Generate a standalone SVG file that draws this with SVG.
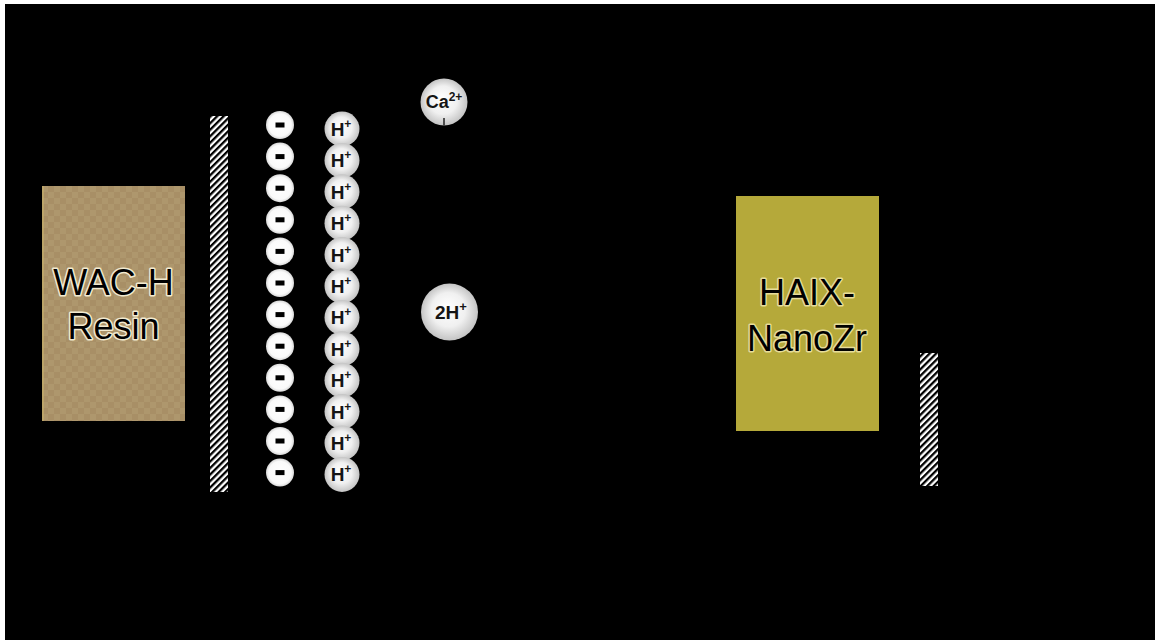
<svg xmlns="http://www.w3.org/2000/svg" width="1155" height="641" viewBox="0 0 1155 641">
  <defs>
    <pattern id="hatch" patternUnits="userSpaceOnUse" width="4.6" height="10" patternTransform="rotate(45)">
      <rect width="4.6" height="10" fill="#ffffff"/>
      <rect width="2.3" height="10" fill="#000000"/>
    </pattern>
    <pattern id="resinGrain" patternUnits="userSpaceOnUse" x="42" y="186" width="12" height="12">
      <rect width="12" height="12" fill="#a88f66"/>
      <rect width="6" height="6" fill="#ae976d"/>
      <rect x="6" y="6" width="6" height="6" fill="#ae976d"/>
    </pattern>
    <radialGradient id="ionShade" cx="0.5" cy="0.5" r="0.5" fx="0.45" fy="0.4">
      <stop offset="0" stop-color="#ffffff"/>
      <stop offset="0.6" stop-color="#f0f0f0"/>
      <stop offset="1" stop-color="#c4c4c4"/>
    </radialGradient>
    <radialGradient id="siteShade" cx="0.5" cy="0.5" r="0.5">
      <stop offset="0" stop-color="#ffffff"/>
      <stop offset="0.8" stop-color="#fafafa"/>
      <stop offset="1" stop-color="#d8d8d8"/>
    </radialGradient>
    <circle id="site" r="14" fill="url(#siteShade)"/>
    <circle id="proton" r="17.5" fill="url(#ionShade)"/>
  </defs>
  <style>
    .label { font-family: "Liberation Sans", Arial, sans-serif; font-size: 36px; fill: #000000; stroke-width: 3px; stroke-linejoin: round; paint-order: stroke; text-anchor: middle; }
    .ion { font-family: "Liberation Sans", Arial, sans-serif; font-weight: bold; fill: #151515; text-anchor: middle; }
    .minus { fill: #000000; }
  </style>

  <!-- page frame -->
  <rect width="1155" height="641" fill="#ffffff"/>
  <rect x="5" y="4" width="1150" height="636" fill="#000000"/>

  <!-- resin bead -->
  <g id="wac-resin">
    <rect x="42" y="186" width="143" height="235" fill="url(#resinGrain)"/>
    <line x1="43" y1="186" x2="43" y2="421" stroke="#c2aa6a" stroke-width="1.5"/>
    <text class="label" x="113.5" y="295" stroke="#f2ead0">WAC-H</text>
    <text class="label" x="113.5" y="339" stroke="#f2ead0">Resin</text>
  </g>

  <!-- resin surface -->
  <g id="surface-left">
    <rect x="210" y="116" width="18" height="376" fill="url(#hatch)"/>
  </g>

  <!-- fixed carboxylate sites -->
  <g id="fixed-sites">
    <g transform="translate(280,125)"><use href="#site"/><rect class="minus" x="-4.5" y="-2.5" width="9" height="5"/></g>
    <g transform="translate(280,156.6)"><use href="#site"/><rect class="minus" x="-4.5" y="-2.5" width="9" height="5"/></g>
    <g transform="translate(280,188.2)"><use href="#site"/><rect class="minus" x="-4.5" y="-2.5" width="9" height="5"/></g>
    <g transform="translate(280,219.8)"><use href="#site"/><rect class="minus" x="-4.5" y="-2.5" width="9" height="5"/></g>
    <g transform="translate(280,251.4)"><use href="#site"/><rect class="minus" x="-4.5" y="-2.5" width="9" height="5"/></g>
    <g transform="translate(280,283)"><use href="#site"/><rect class="minus" x="-4.5" y="-2.5" width="9" height="5"/></g>
    <g transform="translate(280,314.6)"><use href="#site"/><rect class="minus" x="-4.5" y="-2.5" width="9" height="5"/></g>
    <g transform="translate(280,346.2)"><use href="#site"/><rect class="minus" x="-4.5" y="-2.5" width="9" height="5"/></g>
    <g transform="translate(280,377.8)"><use href="#site"/><rect class="minus" x="-4.5" y="-2.5" width="9" height="5"/></g>
    <g transform="translate(280,409.4)"><use href="#site"/><rect class="minus" x="-4.5" y="-2.5" width="9" height="5"/></g>
    <g transform="translate(280,441)"><use href="#site"/><rect class="minus" x="-4.5" y="-2.5" width="9" height="5"/></g>
    <g transform="translate(280,472.6)"><use href="#site"/><rect class="minus" x="-4.5" y="-2.5" width="9" height="5"/></g>
  </g>

  <!-- counter-ions -->
  <g id="protons">
    <g transform="translate(342,129)"><use href="#proton"/><text class="ion" x="-1" y="7" font-size="19">H<tspan font-size="12" dy="-8">+</tspan></text></g>
    <g transform="translate(342,160.4)"><use href="#proton"/><text class="ion" x="-1" y="7" font-size="19">H<tspan font-size="12" dy="-8">+</tspan></text></g>
    <g transform="translate(342,191.8)"><use href="#proton"/><text class="ion" x="-1" y="7" font-size="19">H<tspan font-size="12" dy="-8">+</tspan></text></g>
    <g transform="translate(342,223.2)"><use href="#proton"/><text class="ion" x="-1" y="7" font-size="19">H<tspan font-size="12" dy="-8">+</tspan></text></g>
    <g transform="translate(342,254.6)"><use href="#proton"/><text class="ion" x="-1" y="7" font-size="19">H<tspan font-size="12" dy="-8">+</tspan></text></g>
    <g transform="translate(342,286)"><use href="#proton"/><text class="ion" x="-1" y="7" font-size="19">H<tspan font-size="12" dy="-8">+</tspan></text></g>
    <g transform="translate(342,317.4)"><use href="#proton"/><text class="ion" x="-1" y="7" font-size="19">H<tspan font-size="12" dy="-8">+</tspan></text></g>
    <g transform="translate(342,348.8)"><use href="#proton"/><text class="ion" x="-1" y="7" font-size="19">H<tspan font-size="12" dy="-8">+</tspan></text></g>
    <g transform="translate(342,380.2)"><use href="#proton"/><text class="ion" x="-1" y="7" font-size="19">H<tspan font-size="12" dy="-8">+</tspan></text></g>
    <g transform="translate(342,411.6)"><use href="#proton"/><text class="ion" x="-1" y="7" font-size="19">H<tspan font-size="12" dy="-8">+</tspan></text></g>
    <g transform="translate(342,443)"><use href="#proton"/><text class="ion" x="-1" y="7" font-size="19">H<tspan font-size="12" dy="-8">+</tspan></text></g>
    <g transform="translate(342,474.4)"><use href="#proton"/><text class="ion" x="-1" y="7" font-size="19">H<tspan font-size="12" dy="-8">+</tspan></text></g>
  </g>

  <!-- calcium ion -->
  <g id="calcium">
    <circle cx="444" cy="102" r="23.5" fill="url(#ionShade)"/>
    <text class="ion" x="444" y="108" font-size="18">Ca<tspan font-size="12" dy="-7">2+</tspan></text>
  </g>

  <!-- released protons -->
  <g id="released-protons">
    <circle cx="449.5" cy="312" r="28.5" fill="url(#ionShade)"/>
    <text class="ion" x="451" y="319" font-size="19">2H<tspan font-size="13" dy="-8">+</tspan></text>
  </g>

  <!-- hybrid anion exchanger -->
  <g id="haix-nanozr">
    <rect x="736" y="196" width="143" height="235" fill="#b5a93a"/>
    <text class="label" x="807" y="305" stroke="#e6dc9a">HAIX-</text>
    <text class="label" x="807" y="351" stroke="#e6dc9a">NanoZr</text>
  </g>

  <g id="surface-right">
    <rect x="920" y="353" width="18" height="133" fill="url(#hatch)"/>
  </g>

  <g id="connectors">
    <line x1="444" y1="118" x2="444" y2="125.5" stroke="#222222" stroke-width="1.5"/>
  </g>
</svg>
